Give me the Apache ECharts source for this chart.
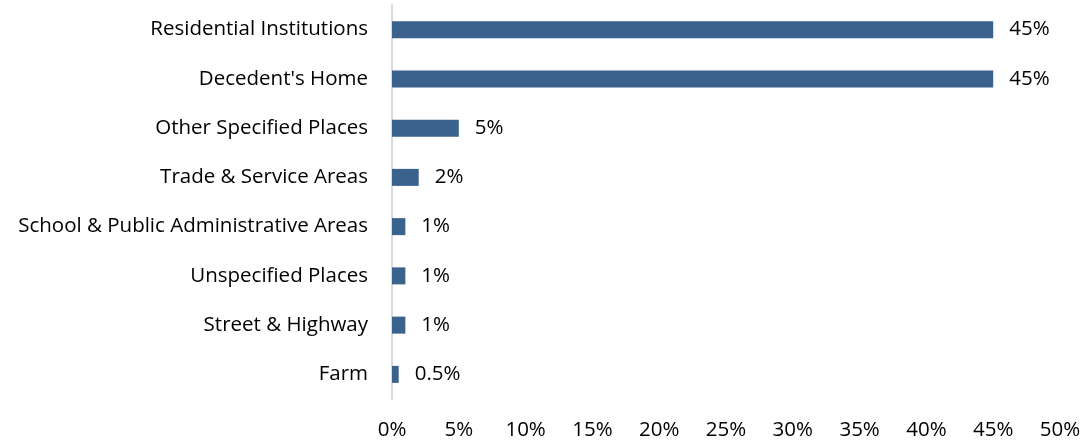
<!DOCTYPE html>
<html>
<head>
<meta charset="utf-8">
<script src="https://cdn.jsdelivr.net/npm/echarts@6/dist/echarts.min.js"></script>
<style>
  html, body { margin: 0; padding: 0; background: #ffffff; }
  #chart { width: 1086px; height: 442px; }
</style>
</head>
<body>
<div id="chart"></div>
<script>
// Place of death, share of all deaths (%)
const places = [
  "Residential Institutions",
  "Decedent's Home",
  "Other Specified Places",
  "Trade & Service Areas",
  "School & Public Administrative Areas",
  "Unspecified Places",
  "Street & Highway",
  "Farm"
];
const shares = [45, 45, 5, 2, 1, 1, 1, 0.5];
const axisTicks = [0, 5, 10, 15, 20, 25, 30, 35, 40, 45, 50];

const FONT = "'Open Sans', 'Noto Sans', sans-serif";
const FONT_SIZE = 20.5;
const chart = echarts.init(document.getElementById('chart'), null, { renderer: 'canvas' });

chart.setOption({
  animation: false,
  backgroundColor: '#ffffff',
  grid: { left: 392, right: 26, top: 5, bottom: 43, containLabel: false },
  xAxis: {
    type: 'value',
    min: axisTicks[0],
    max: axisTicks[axisTicks.length - 1],
    interval: axisTicks[1] - axisTicks[0],
    axisLine: { show: false },
    axisTick: { show: false },
    splitLine: { show: false },
    axisLabel: {
      margin: 21,
      color: '#000000',
      fontFamily: FONT,
      fontSize: FONT_SIZE,
      formatter: v => v + '%'
    }
  },
  yAxis: {
    type: 'category',
    data: places,
    inverse: true,
    axisLine: { show: true, lineStyle: { color: '#d9d9d9', width: 2 } },
    axisTick: { show: false },
    axisLabel: {
      margin: 24,
      color: '#000000',
      fontFamily: FONT,
      fontSize: FONT_SIZE
    }
  },
  series: [{
    type: 'bar',
    data: shares,
    barWidth: 17,
    itemStyle: { color: '#3b618d' },
    label: {
      show: true,
      position: 'right',
      distance: 16,
      color: '#000000',
      fontFamily: FONT,
      fontSize: FONT_SIZE,
      formatter: p => p.value + '%'
    }
  }]
});
</script>
</body>
</html>
